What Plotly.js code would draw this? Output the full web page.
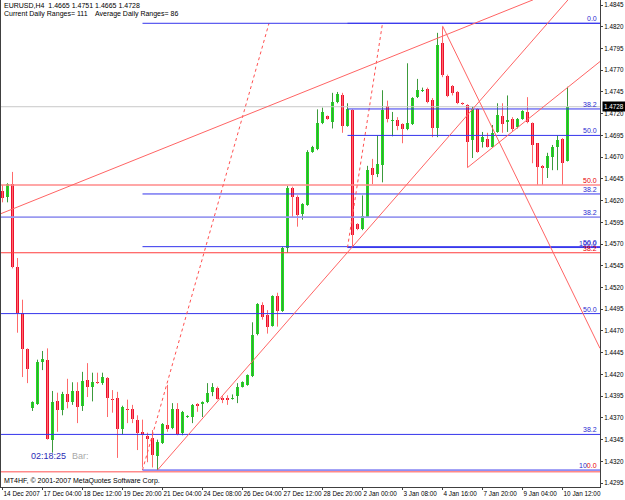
<!DOCTYPE html>
<html><head><meta charset="utf-8">
<script src="https://cdn.plot.ly/plotly-3.0.1.min.js"></script>
<style>html,body{margin:0;padding:0;background:#fff}#chart{width:625px;height:500px}</style>
</head><body><div id="chart"></div>
<script>
// ---- time axis (bar index) labels ----
const labelBars = [0, 8, 16, 24, 32, 40, 48, 56, 64, 72, 80, 88, 96, 104, 112];
const timeLabels = ["14 Dec 2007", "17 Dec 04:00", "18 Dec 12:00", "19 Dec 20:00", "21 Dec 04:00",
  "24 Dec 08:00", "26 Dec 04:00", "27 Dec 12:00", "28 Dec 20:00", "2 Jan 00:00", "3 Jan 08:00",
  "4 Jan 16:00", "7 Jan 20:00", "9 Jan 04:00", "10 Jan 12:00"];

// ---- EURUSD H4 OHLC ----
const openP = [1.4631,1.4624,1.4639,1.4544,1.4491,1.4449,1.4381,1.4386,1.4434,1.4437,
  1.4345,1.4389,1.4379,1.4397,1.4388,1.4401,1.4384,1.4414,1.4406,1.4411,
  1.4410,1.4416,1.4392,1.4393,1.4357,1.4380,1.4380,1.4368,1.4354,1.4349,
  1.4347,1.4326,1.4341,1.4362,1.4358,1.4380,1.4353,1.4371,1.4371,1.4386,
  1.4386,1.4388,1.4400,1.4404,1.4393,1.4393,1.4392,1.4395,1.4406,1.4408,
  1.4418,1.4467,1.4500,1.4488,1.4476,1.4510,1.4493,1.4565,1.4634,1.4624,
  1.4605,1.4615,1.4676,1.4679,1.4709,1.4717,1.4710,1.4733,1.4741,1.4706,
  1.4724,1.4593,1.4587,1.4601,1.4658,1.4651,1.4661,1.4729,1.4712,1.4713,
  1.4708,1.4702,1.4708,1.4739,1.4746,1.4748,1.4736,1.4704,1.4801,1.4763,
  1.4752,1.4745,1.4732,1.4730,1.4690,1.4725,1.4687,1.4691,1.4682,1.4699,
  1.4717,1.4711,1.4714,1.4705,1.4714,1.4722,1.4709,1.4686,1.4660,1.4658,
  1.4670,1.4682,1.4691,1.4665];
const highP = [1.4638,1.4640,1.4653,1.4554,1.4506,1.4450,1.4389,1.4437,1.4447,1.4450,
  1.4401,1.4399,1.4400,1.4415,1.4411,1.4411,1.4423,1.4433,1.4422,1.4422,
  1.4422,1.4417,1.4402,1.4400,1.4384,1.4391,1.4385,1.4373,1.4368,1.4353,
  1.4356,1.4345,1.4364,1.4408,1.4387,1.4387,1.4378,1.4373,1.4386,1.4387,
  1.4389,1.4410,1.4410,1.4406,1.4395,1.4396,1.4397,1.4410,1.4412,1.4420,
  1.4480,1.4502,1.4503,1.4494,1.4511,1.4514,1.4567,1.4637,1.4636,1.4626,
  1.4617,1.4678,1.4683,1.4725,1.4727,1.4718,1.4744,1.4745,1.4744,1.4732,
  1.4725,1.4594,1.4626,1.4660,1.4668,1.4695,1.4747,1.4735,1.4722,1.4716,
  1.4709,1.4778,1.4739,1.4760,1.4750,1.4750,1.4738,1.4813,1.4820,1.4765,
  1.4753,1.4746,1.4733,1.4731,1.4728,1.4726,1.4699,1.4698,1.4707,1.4732,
  1.4732,1.4741,1.4716,1.4715,1.4724,1.4739,1.4710,1.4686,1.4661,1.4675,
  1.4684,1.4695,1.4692,1.4751];
const lowP = [1.4618,1.4618,1.4542,1.4468,1.4417,1.4410,1.4378,1.4385,1.4425,1.4345,
  1.4330,1.4354,1.4373,1.4381,1.4385,1.4364,1.4378,1.4394,1.4389,1.4409,
  1.4408,1.4371,1.4376,1.4324,1.4351,1.4364,1.4364,1.4333,1.4313,1.4319,
  1.4313,1.4310,1.4340,1.4354,1.4357,1.4350,1.4350,1.4370,1.4364,1.4377,
  1.4371,1.4387,1.4395,1.4391,1.4387,1.4385,1.4391,1.4387,1.4405,1.4407,
  1.4417,1.4465,1.4483,1.4467,1.4475,1.4475,1.4492,1.4560,1.4601,1.4590,
  1.4598,1.4614,1.4675,1.4678,1.4708,1.4713,1.4703,1.4732,1.4698,1.4705,
  1.4566,1.4586,1.4586,1.4600,1.4639,1.4647,1.4641,1.4710,1.4694,1.4701,
  1.4686,1.4701,1.4707,1.4738,1.4745,1.4732,1.4693,1.4693,1.4762,1.4739,
  1.4741,1.4731,1.4730,1.4658,1.4669,1.4675,1.4681,1.4681,1.4681,1.4698,
  1.4698,1.4699,1.4700,1.4703,1.4713,1.4709,1.4663,1.4638,1.4638,1.4646,
  1.4655,1.4655,1.4638,1.4665];
const closeP = [1.4623,1.4639,1.4544,1.4491,1.4449,1.4426,1.4388,1.4434,1.4438,1.4346,
  1.4388,1.4379,1.4397,1.4388,1.4401,1.4383,1.4412,1.4406,1.4411,1.4410,
  1.4417,1.4393,1.4391,1.4357,1.4383,1.4379,1.4369,1.4353,1.4350,1.4346,
  1.4327,1.4342,1.4363,1.4357,1.4380,1.4351,1.4377,1.4372,1.4385,1.4384,
  1.4388,1.4399,1.4406,1.4392,1.4391,1.4391,1.4393,1.4406,1.4411,1.4419,
  1.4465,1.4501,1.4486,1.4475,1.4510,1.4493,1.4565,1.4634,1.4624,1.4603,
  1.4616,1.4676,1.4682,1.4709,1.4722,1.4714,1.4733,1.4743,1.4706,1.4725,
  1.4580,1.4587,1.4602,1.4655,1.4649,1.4662,1.4724,1.4714,1.4713,1.4706,
  1.4702,1.4709,1.4738,1.4747,1.4747,1.4733,1.4704,1.4799,1.4765,1.4740,
  1.4744,1.4732,1.4731,1.4687,1.4725,1.4676,1.4693,1.4682,1.4698,1.4718,
  1.4708,1.4712,1.4702,1.4714,1.4723,1.4710,1.4684,1.4659,1.4658,1.4671,
  1.4682,1.4690,1.4663,1.4728];

// ---- chart objects: trend lines (bar, price anchors) ----
const trendX1 = [-0.3, 31, 93, 88];
const trendY1 = [1.4605, 1.4310, 1.4658, 1.4821];
const trendX2 = [106.1, 113.1, 119.5, 119.5];
const trendY2 = [1.4851, 1.4851, 1.4780, 1.4450];

// ---- Fibonacci retracements (blue, drawn from first anchor to the right) ----
const fibBar1 = [28, 69];
const fibPrice1 = [1.4310, 1.4566];
const fibBar2 = [53.3, 76];
const fibPrice2 = [1.4824, 1.4824];
const fibLevels = [0, 38.2, 50, 100];

// ---- other full-width level lines ----
const levelPrices = [1.4638, 1.4601, 1.4560, 1.4490, 1.4351, 1.4308];
const levelLabels = ["50.0", "38.2", "38.2", "50.0", "38.2", "0.0"];
const levelColors = ["#ff8a8a", "#9a9af0", "#ff3c3c", "#3434ec", "#3434ec", "#ff8a8a"];
const levelWidths = [1.6, 1.6, 1, 1, 1, 1.6];

const yTicks = [];
for (let v = 1.4295; v <= 1.48451; v += 0.0025) yTicks.push(+v.toFixed(4));

const N = openP.length;
const XMIN = -0.3, XMAX = 119.5;
const BLUE = '#3434ec', BLUE_TXT = '#2a2ad0', RED_TXT = '#e80000';

const traces = [];
function wickTrace(bull) {
  const xs = [], ys = [];
  for (let i = 0; i < N; i++) {
    if ((closeP[i] >= openP[i]) !== bull) continue;
    xs.push(i, i, null); ys.push(lowP[i], highP[i], null);
  }
  return {type: 'scatter', mode: 'lines', x: xs, y: ys, hoverinfo: 'skip',
    line: {color: bull ? '#3c9a3c' : '#ff6a6a', width: 1}, showlegend: false};
}
function bodyTrace(bull) {
  const xs = [], base = [], h = [];
  for (let i = 0; i < N; i++) {
    if ((closeP[i] >= openP[i]) !== bull) continue;
    xs.push(i); base.push(Math.min(openP[i], closeP[i]));
    h.push(Math.max(Math.abs(closeP[i] - openP[i]), 0.00012));
  }
  return {type: 'bar', x: xs, y: h, base: base, width: 0.62, hoverinfo: 'skip',
    marker: {color: bull ? '#1ee01e' : '#ec1030', line: {width: 0}}, showlegend: false};
}
traces.push(wickTrace(true), wickTrace(false), bodyTrace(true), bodyTrace(false));

// bid line
traces.push({type: 'scatter', mode: 'lines', x: [XMIN, XMAX], y: [closeP[N-1], closeP[N-1]],
  line: {color: '#c8c8c8', width: 1}, hoverinfo: 'skip', showlegend: false});

const annotations = [];
const labelSeen = {};
function levelLabel(price, text, color) {
  const key = price.toFixed(4);
  if (labelSeen[key]) return;
  labelSeen[key] = true;
  annotations.push({xref: 'paper', yref: 'y', x: 1, y: price, xanchor: 'right', yanchor: 'bottom',
    xshift: -2, yshift: 0, text: text, showarrow: false, borderpad: 0,
    font: {family: 'Liberation Sans, Arial', size: 7, color: color}});
}

// full width levels
for (let i = 0; i < levelPrices.length; i++) {
  traces.push({type: 'scatter', mode: 'lines', x: [XMIN, XMAX], y: [levelPrices[i], levelPrices[i]],
    line: {color: levelColors[i], width: levelWidths[i]}, hoverinfo: 'skip', showlegend: false});
}

// fibs (later fib labels win where levels coincide)
for (let f = fibBar1.length - 1; f >= 0; f--) {
  fibLevels.forEach(l => {
    const p = fibPrice2[f] + (fibPrice1[f] - fibPrice2[f]) * l / 100;
    if (f === 0 && l === 100) {
      levelLabel(p, '<span style="color:' + BLUE_TXT + '">10</span><span style="color:' + RED_TXT + '">0.0</span>', BLUE_TXT);
    } else {
      levelLabel(p, l.toFixed(1), BLUE_TXT);
    }
  });
}
for (let f = 0; f < fibBar1.length; f++) {
  traces.push({type: 'scatter', mode: 'lines', x: [fibBar1[f], fibBar2[f]], y: [fibPrice1[f], fibPrice2[f]],
    line: {color: '#ff5050', width: 1, dash: 'dot'}, hoverinfo: 'skip', showlegend: false});
  fibLevels.forEach(l => {
    const p = fibPrice2[f] + (fibPrice1[f] - fibPrice2[f]) * l / 100;
    traces.push({type: 'scatter', mode: 'lines', x: [fibBar1[f], XMAX], y: [p, p],
      line: {color: BLUE, width: 1}, hoverinfo: 'skip', showlegend: false});
  });
}
for (let i = 0; i < levelPrices.length - 1; i++) {
  const isBlue = levelColors[i] === '#9a9af0' || levelColors[i] === BLUE;
  levelLabel(levelPrices[i], levelLabels[i], isBlue ? BLUE_TXT : RED_TXT);
}

// trend lines
for (let i = 0; i < trendX1.length; i++) {
  traces.push({type: 'scatter', mode: 'lines', x: [trendX1[i], trendX2[i]], y: [trendY1[i], trendY2[i]],
    line: {color: '#ff6464', width: 1}, hoverinfo: 'skip', showlegend: false});
}

const tf = {family: 'Liberation Sans, Arial', size: 7, color: '#000'};
annotations.push(
  {xref: 'paper', yref: 'paper', x: 0, y: 1, xanchor: 'left', yanchor: 'top', xshift: 2, yshift: -1,
   text: 'EURUSD,H4  1.4665 1.4751 1.4665 1.4728', showarrow: false, borderpad: 0, font: tf},
  {xref: 'paper', yref: 'paper', x: 0, y: 1, xanchor: 'left', yanchor: 'top', xshift: 2, yshift: -9,
   text: 'Current Daily Ranges= 111    Average Daily Ranges= 86', showarrow: false, borderpad: 0, font: tf},
  {xref: 'paper', yref: 'paper', x: 0, y: 0, xanchor: 'left', yanchor: 'bottom', xshift: 2, yshift: 1,
   text: 'MT4HF, © 2001-2007 MetaQuotes Software Corp.', showarrow: false, borderpad: 0, font: tf},
  {xref: 'paper', yref: 'paper', x: 0, y: 0, xanchor: 'left', yanchor: 'middle', xshift: 29, yshift: 31,
   text: '02:18:25', showarrow: false, borderpad: 0,
   font: {family: 'Liberation Sans, Arial', size: 9, color: '#2a2ab4'}},
  {xref: 'paper', yref: 'paper', x: 0, y: 0, xanchor: 'left', yanchor: 'middle', xshift: 70, yshift: 31,
   text: 'Bar:', showarrow: false, borderpad: 0,
   font: {family: 'Liberation Sans, Arial', size: 9, color: '#a8a8a8'}},
  {xref: 'paper', yref: 'y', x: 1, y: closeP[N-1], xanchor: 'left', yanchor: 'middle', xshift: 2,
   text: closeP[N-1].toFixed(4), showarrow: false, bgcolor: '#000', borderpad: 1,
   font: {family: 'Liberation Sans, Arial', size: 6.3, color: '#fff'}}
);

const layout = {
  width: 625, height: 500,
  margin: {l: 1, r: 25, t: 0, b: 13, pad: 0},
  paper_bgcolor: '#fff', plot_bgcolor: '#fff',
  showlegend: false, barmode: 'overlay', bargap: 0,
  xaxis: {range: [XMIN, XMAX], showgrid: false, zeroline: false, fixedrange: true,
    tickvals: labelBars, ticktext: timeLabels, ticks: 'outside', ticklen: 2, tickcolor: '#404040',
    tickangle: 0, ticklabelposition: 'outside right',
    tickfont: {family: 'Liberation Sans, Arial', size: 6.4, color: '#000'},
    showline: true, linecolor: '#404040', linewidth: 1},
  yaxis: {range: [1.42905, 1.48508], side: 'right', showgrid: false, zeroline: false, fixedrange: true,
    tickvals: yTicks, tickformat: '.4f', ticks: 'outside', ticklen: 2, tickcolor: '#404040',
    tickfont: {family: 'Liberation Sans, Arial', size: 6.3, color: '#000'},
    showline: true, mirror: true, linecolor: '#404040', linewidth: 1},
  annotations: annotations
};
Plotly.newPlot('chart', traces, layout, {staticPlot: true, displayModeBar: false});
</script></body></html>
